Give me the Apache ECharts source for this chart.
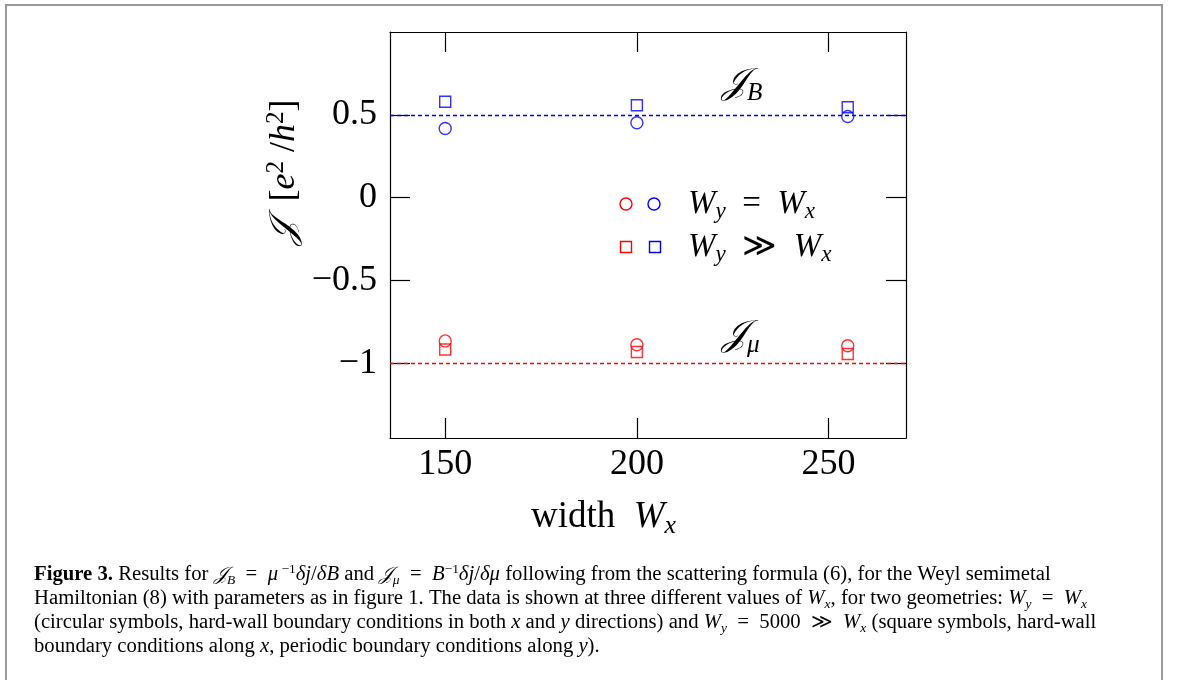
<!DOCTYPE html>
<html>
<head>
<meta charset="utf-8">
<script src="https://cdn.jsdelivr.net/npm/echarts@6/dist/echarts.min.js"></script>
<style>
  html, body { margin: 0; padding: 0; background: #ffffff; }
  #chart { width: 1179px; height: 680px; }
</style>
</head>
<body>
<div id="chart"></div>
<script>
// ---- data ----
const widths = [150, 200, 255];
const jbCircle = [0.418, 0.452, 0.490];
const jbSquare = [0.579, 0.558, 0.546];
const jmuCircle = [-0.864, -0.887, -0.893];
const jmuSquare = [-0.916, -0.931, -0.943];
const jbLevel = 0.5;
const jmuLevel = -1;
const xTicks = [150, 200, 250];
const yTicks = [-1, -0.5, 0, 0.5];

const SERIF = "'Liberation Serif', 'DejaVu Serif', serif";
const CAL = "'DejaVu Serif', 'DejaVu Sans', 'Noto Sans', serif";
const RED = '#ff0000';
const BLUE = '#0000ff';
const LINK = '#2b8fc9';

const chart = echarts.init(document.getElementById('chart'), null, { renderer: 'canvas' });

function fmtY(v) {
  if (v < 0) return '\u2212' + String(Math.abs(v));
  return String(v);
}

function pairs(ys) { return widths.map((w, i) => [w, ys[i]]); }

function mathRich(size, color) {
  return {
    r: { fontFamily: SERIF, fontSize: size, lineHeight: size * 1.2, color: color },
    i: { fontFamily: SERIF, fontStyle: 'italic', fontSize: size, lineHeight: size * 1.2, color: color },
    c: { fontFamily: CAL, fontStyle: 'italic', fontSize: size, lineHeight: size * 1.2, color: color },
    s: { fontFamily: SERIF, fontStyle: 'italic', fontSize: size * 0.7, lineHeight: size * 0.45, verticalAlign: 'bottom', color: color },
    p: { fontFamily: SERIF, fontSize: size * 0.7, lineHeight: size * 0.6, verticalAlign: 'top', color: color }
  };
}

const CAP = 20;
const capRich = {
  b: { fontFamily: SERIF, fontWeight: 'bold', fontSize: CAP, lineHeight: 24, color: '#111' },
  n: { fontFamily: SERIF, fontSize: CAP, lineHeight: 24, color: '#111' },
  i: { fontFamily: SERIF, fontStyle: 'italic', fontSize: CAP, lineHeight: 24, color: '#111' },
  l: { fontFamily: SERIF, fontSize: CAP, lineHeight: 24, color: LINK },
  cal: { fontFamily: CAL, fontStyle: 'italic', fontSize: CAP - 1, lineHeight: 24, color: '#111' },
  cs: { fontFamily: SERIF, fontStyle: 'italic', fontSize: 13, lineHeight: 9, verticalAlign: 'bottom', color: '#111' },
  sup: { fontFamily: SERIF, fontSize: 13, lineHeight: 12, verticalAlign: 'top', color: '#111' }
};

const caption = [
  '{b|Figure 3.}{n| Results for }{cal|\uD835\uDCA5}{cs|B}{n|  =  }{i|\u03BC}{sup| \u22121}{i|\u03B4j}{n|/}{i|\u03B4B}{n| and }{cal|\uD835\uDCA5}{cs|\u03BC}{n|  =  }{i|B}{sup|\u22121}{i|\u03B4j}{n|/}{i|\u03B4\u03BC}{n| following from the scattering formula (}{l|6}{n|), for the Weyl semimetal}',
  '{n|Hamiltonian (}{l|8}{n|) with parameters as in figure }{l|1}{n|. The data is shown at three different values of }{i|W}{cs|x}{n|, for two geometries: }{i|W}{cs|y}{n|  =  }{i|W}{cs|x}',
  '{n|(circular symbols, hard-wall boundary conditions in both }{i|x}{n| and }{i|y}{n| directions) and }{i|W}{cs|y}{n|  =  5000  \u226B  }{i|W}{cs|x}{n| (square symbols, hard-wall}',
  '{n|boundary conditions along }{i|x}{n|, periodic boundary conditions along }{i|y}{n|).}'
].join('\n');

function scatter(name, ys, symbol, size, color, level) {
  const s = {
    name: name, type: 'scatter', data: pairs(ys), symbol: symbol, symbolSize: size,
    xAxisIndex: 0, yAxisIndex: 0, z: 5, color: color,
    itemStyle: { color: 'rgba(0,0,0,0)', borderColor: color, borderWidth: 1.4 },
    emphasis: { disabled: true }
  };
  if (level !== undefined) {
    s.markLine = {
      silent: true, symbol: 'none', label: { show: false }, z: 3,
      lineStyle: { color: color, type: [4, 3], width: 1.3, opacity: 1 },
      itemStyle: { color: color },
      emphasis: { disabled: true },
      data: [{ yAxis: level, lineStyle: { color: color } }]
    };
  }
  return s;
}

const axisCommon = {
  axisLine: { show: true, onZero: false, lineStyle: { color: '#000', width: 1.2 } },
  splitLine: { show: false }
};

const option = {
  animation: false,
  backgroundColor: '#ffffff',
  grid: { left: 390, top: 32, width: 516, height: 406, containLabel: false },
  xAxis: [
    Object.assign({
      type: 'value', min: 135.6, max: 270.2, position: 'bottom',
      axisTick: { show: true, inside: true, length: 20, customValues: xTicks, lineStyle: { color: '#000', width: 1.2 } },
      axisLabel: { show: true, customValues: xTicks, margin: 9, fontFamily: SERIF, fontSize: 36, color: '#000' }
    }, axisCommon),
    Object.assign({
      type: 'value', min: 135.6, max: 270.2, position: 'top',
      axisTick: { show: true, inside: true, length: 20, customValues: xTicks, lineStyle: { color: '#000', width: 1.2 } },
      axisLabel: { show: false }
    }, axisCommon)
  ],
  yAxis: [
    Object.assign({
      type: 'value', min: -1.45, max: 1.0, position: 'left',
      axisTick: { show: true, inside: true, length: 20, customValues: yTicks, lineStyle: { color: '#000', width: 1.2 } },
      axisLabel: { show: true, customValues: yTicks, margin: 13, formatter: fmtY, fontFamily: SERIF, fontSize: 36, color: '#000' }
    }, axisCommon),
    Object.assign({
      type: 'value', min: -1.45, max: 1.0, position: 'right',
      axisTick: { show: true, inside: true, length: 20, customValues: yTicks, lineStyle: { color: '#000', width: 1.2 } },
      axisLabel: { show: false }
    }, axisCommon)
  ],
  series: [
    scatter('J_B, Wy=Wx', jbCircle, 'circle', 12, BLUE, jbLevel),
    scatter('J_B, Wy>>Wx', jbSquare, 'rect', 11, BLUE),
    scatter('J_mu, Wy=Wx', jmuCircle, 'circle', 12, RED, jmuLevel),
    scatter('J_mu, Wy>>Wx', jmuSquare, 'rect', 11, RED)
  ],
  graphic: [
    // page frame
    { type: 'polyline', silent: true, shape: { points: [[6, 690], [6, 5], [1162, 5], [1162, 690]] },
      style: { stroke: '#9a9a9a', lineWidth: 2, fill: null } },
    // series labels
    { type: 'text', x: 722, y: 84, style: { text: '{c|\uD835\uDCA5}{s|B}', rich: mathRich(36, BLUE), align: 'left', verticalAlign: 'middle' } },
    { type: 'text', x: 722, y: 336, style: { text: '{c|\uD835\uDCA5}{s|\u03BC}', rich: mathRich(36, RED), align: 'left', verticalAlign: 'middle' } },
    // legend markers
    { type: 'circle', shape: { cx: 626, cy: 204, r: 6 }, style: { fill: null, stroke: RED, lineWidth: 1.4 } },
    { type: 'circle', shape: { cx: 654, cy: 204, r: 6 }, style: { fill: null, stroke: BLUE, lineWidth: 1.4 } },
    { type: 'rect', shape: { x: 620.5, y: 241.5, width: 11, height: 11 }, style: { fill: null, stroke: RED, lineWidth: 1.4 } },
    { type: 'rect', shape: { x: 649.5, y: 241.5, width: 11, height: 11 }, style: { fill: null, stroke: BLUE, lineWidth: 1.4 } },
    { type: 'text', x: 688, y: 204, style: { text: '{i|W}{s|y}{r|  =  }{i|W}{s|x}', rich: mathRich(33, '#000'), align: 'left', verticalAlign: 'middle' } },
    { type: 'text', x: 688, y: 247, style: { text: '{i|W}{s|y}{r|  \u226B  }{i|W}{s|x}', rich: mathRich(33, '#000'), align: 'left', verticalAlign: 'middle' } },
    // axis names
    { type: 'text', x: 531, y: 517, style: { text: '{r|width  }{i|W}{s|x}', rich: mathRich(37, '#000'), align: 'left', verticalAlign: 'middle' } },
    { type: 'text', x: 285, y: 172, rotation: Math.PI / 2,
      style: { text: '{c|\uD835\uDCA5}{r|  [}{i|e}{p|2}{r| /}{i|h}{p|2}{r|]}', rich: mathRich(36, '#000'), align: 'center', verticalAlign: 'middle' } },
    // caption
    { type: 'text', x: 34, y: 563, scaleX: 1.035, style: { text: caption, rich: capRich, align: 'left', verticalAlign: 'top' } }
  ]
};

chart.setOption(option);
</script>
</body>
</html>
